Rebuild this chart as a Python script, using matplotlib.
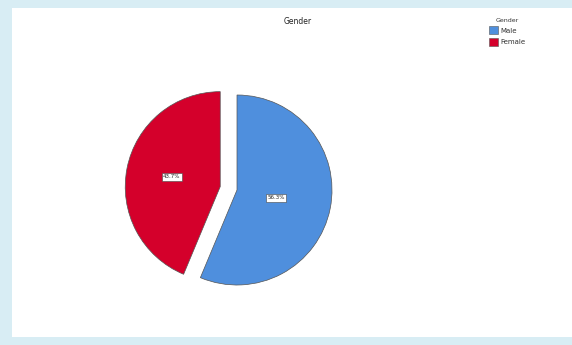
import numpy as np
import matplotlib.pyplot as plt
from matplotlib.patches import Patch

genders = ['Male', 'Female']
shares = [56.3, 43.7]
labels_pct = ['56.3%', '43.7%']
slice_colors = ['#4f8fdd', '#d4002b']
label_dist = [0.42, 0.52]

W, H = 572, 345
fig = plt.figure(figsize=(W / 100, H / 100), dpi=100)
fig.patch.set_facecolor('#d8edf4')

# white chart panel inside the light blue frame
panel = fig.add_axes([12 / W, 8 / H, 1 - 12 / W, (337 - 8) / H])
panel.axis('off')
panel.add_patch(plt.Rectangle((0, 0), 1, 1, transform=panel.transAxes,
                              facecolor='white', edgecolor='none'))

# pie axes: pixel region 100..380 x 60..320, radius 1 = 95 px, centre at (237, 190)
ax = fig.add_axes([100 / W, (H - 320) / H, 280 / W, 260 / H])
wedges, texts, autotexts = ax.pie(
    shares, colors=slice_colors, startangle=90, counterclock=False,
    explode=[0, 0.18], autopct='%1.1f%%', pctdistance=0.42,
    wedgeprops=dict(edgecolor='#555555', linewidth=0.5))
ax.set_aspect('auto')
ax.set_xlim(-137 / 95, 143 / 95)
ax.set_ylim(-130 / 95, 130 / 95)
ax.axis('off')

for w, t, lab, d in zip(wedges, autotexts, labels_pct, label_dist):
    mid = np.deg2rad((w.theta1 + w.theta2) / 2)
    cx, cy = w.center
    t.set_position((cx + d * np.cos(mid), cy + d * np.sin(mid)))
    t.set_text(lab)
    t.set_fontsize(4)
    t.set_color('#222222')
    t.set_bbox(dict(facecolor='white', edgecolor='#444444', linewidth=0.4,
                    boxstyle='square,pad=0.25'))

fig.text(298 / W, 1 - 22 / H, 'Gender', ha='center', va='center',
         fontsize=5.5, color='#222222')

handles = [Patch(facecolor=c, edgecolor='#555555', linewidth=0.4) for c in slice_colors]
leg = fig.legend(handles, genders, title='Gender', loc='upper left',
                 bbox_to_anchor=(484 / W, 1 - 13 / H), frameon=False,
                 fontsize=5, title_fontsize=4.5, handlelength=1.3,
                 handleheight=1.4, handletextpad=0.3, labelspacing=0.5,
                 borderpad=0.2)
for txt in leg.get_texts():
    txt.set_color('#333333')
leg.get_title().set_color('#333333')

fig.savefig('out.png', dpi=100, facecolor=fig.get_facecolor())
